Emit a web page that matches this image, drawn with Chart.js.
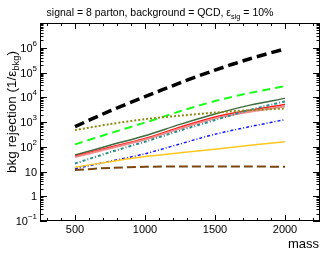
<!DOCTYPE html>
<html><head><meta charset="utf-8">
<script src="https://cdn.jsdelivr.net/npm/chart.js@4.4.0/dist/chart.umd.min.js"></script>
<style>html,body{margin:0;padding:0;background:#fff}#wrap{width:330px;height:255px}</style>
</head><body><div id="wrap"><canvas id="c" width="330" height="255"></canvas></div>
<script>
const masses = [500, 750, 1000, 1250, 1500, 1750, 2000];
const blackDashed = [650, 2800, 10500, 38000, 125000, 360000, 900000];
const greenDashed = [125, 350, 950, 2700, 7000, 15000, 28000];
const oliveDotted = [470, 820, 1300, 1800, 2400, 3000, 3500];
const darkGreen = [46, 115, 280, 800, 2100, 4800, 9000];
const redLine = [41, 95, 215, 620, 1600, 3000, 5100];
const pinkLine = [38, 86, 195, 540, 1400, 2600, 4300];
const tealDotted = [21, 60, 160, 450, 1200, 3100, 6800];
const blueDotted = [13, 26, 52, 130, 320, 650, 1250];
const orangeLine = [15, 25, 40, 57, 80, 115, 160];
const brownDashed = [11.5, 14, 15.5, 16, 16, 16, 15.5];
const yTickExps = [-1, 0, 1, 2, 3, 4, 5, 6];
const xTicks = [500, 1000, 1500, 2000];
const titleText = ["signal = 8 parton, background = QCD, ε", "sig", " = 10%"];
const yTitle = ["bkg rejection (1/ε", "bkg", ")"];
const xTitle = "mass";

function ds(data, color, width, dash) {
  return { data: masses.map((m, i) => ({x: m, y: data[i]})), borderColor: color,
    borderWidth: width, borderDash: dash, pointRadius: 0, tension: 0.3, fill: false };
}
const FONT = '"Liberation Sans", Arial, sans-serif';

function richText(ctx, parts, x, y, size, align) {
  ctx.font = size + 'px ' + FONT;
  const w0 = ctx.measureText(parts[0]).width;
  ctx.font = (size * 0.7) + 'px ' + FONT;
  const w1 = ctx.measureText(parts[1]).width;
  ctx.font = size + 'px ' + FONT;
  const w2 = ctx.measureText(parts[2]).width;
  const tot = w0 + w1 + w2;
  let sx = align === 'center' ? x - tot / 2 : x;
  ctx.textAlign = 'left'; ctx.textBaseline = 'alphabetic';
  ctx.fillText(parts[0], sx, y);
  ctx.font = (size * 0.7) + 'px ' + FONT;
  ctx.fillText(parts[1], sx + w0, y + size * 0.25);
  ctx.font = size + 'px ' + FONT;
  ctx.fillText(parts[2], sx + w0 + w1, y);
}

const deco = {
  id: 'deco',
  afterDraw(chart) {
    const ctx = chart.ctx, a = chart.chartArea, xs = chart.scales.x, ys = chart.scales.y;
    ctx.save();
    ctx.strokeStyle = '#000'; ctx.fillStyle = '#000'; ctx.lineWidth = 1;
    ctx.strokeRect(a.left + 0.5, a.top + 0.5, a.right - a.left - 1, a.bottom - a.top - 1);
    ctx.beginPath();
    for (let v = 300; v <= 2200; v += 100) {
      const px = Math.round(xs.getPixelForValue(v)) + 0.5;
      const L = (v % 500 === 0) ? 6 : 3;
      ctx.moveTo(px, a.bottom); ctx.lineTo(px, a.bottom - L);
      ctx.moveTo(px, a.top); ctx.lineTo(px, a.top + L);
    }
    for (let e = -1; e < 7; e++) {
      for (let k = 1; k <= 9; k++) {
        const v = k * Math.pow(10, e);
        const py = Math.round(ys.getPixelForValue(v)) + 0.5;
        const L = k === 1 ? 7 : 3.5;
        ctx.moveTo(a.left, py); ctx.lineTo(a.left + L, py);
        ctx.moveTo(a.right, py); ctx.lineTo(a.right - L, py);
      }
    }
    ctx.stroke();
    yTickExps.forEach(e => {
      const py = ys.getPixelForValue(Math.pow(10, e));
      ctx.textBaseline = 'middle';
      if (e === 0 || e === 1) {
        ctx.font = '11px ' + FONT; ctx.textAlign = 'right';
        ctx.fillText(e === 0 ? '1' : '10', a.left - 3, py + 1);
      } else {
        const ex = String(e).replace('-', '\u2212');
        ctx.font = '8px ' + FONT; ctx.textAlign = 'right';
        const we = ctx.measureText(ex).width;
        ctx.fillText(ex, a.left - 3, py - 4);
        ctx.font = '11px ' + FONT;
        ctx.fillText('10', a.left - 3 - we, py + 1);
      }
    });
    ctx.font = '11px ' + FONT; ctx.textAlign = 'center'; ctx.textBaseline = 'top';
    xTicks.forEach(v => ctx.fillText(String(v), xs.getPixelForValue(v), a.bottom + 3));
    richText(ctx, titleText, 160, 16, 10.5, 'center');
    ctx.font = '13px ' + FONT; ctx.textAlign = 'right'; ctx.textBaseline = 'alphabetic';
    ctx.fillText(xTitle, 319, 248);
    ctx.save();
    ctx.translate(16, 112); ctx.rotate(-Math.PI / 2);
    richText(ctx, yTitle, 0, 0, 13.5, 'center');
    ctx.restore();
    ctx.restore();
  }
};

new Chart(document.getElementById('c'), {
  type: 'line',
  data: { datasets: [
    ds(oliveDotted, '#8c8c14', 2, [2, 2]),
    ds(brownDashed, '#7a4612', 2, [9, 4]),
    ds(orangeLine, '#ffc81e', 1.5, []),
    ds(blueDotted, '#1a1aff', 1.5, [3, 2, 1, 2]),
    ds(tealDotted, '#2e8c8c', 2, [3, 2, 1, 2]),
    ds(pinkLine, '#f08c8c', 2, []),
    ds(redLine, '#ff1a1a', 1.5, []),
    ds(darkGreen, '#3d6b3d', 1.5, []),
    ds(greenDashed, '#1aff1a', 2, [8, 5]),
    ds(blackDashed, '#000000', 3.5, [10, 5])
  ]},
  options: {
    responsive: false, animation: false, devicePixelRatio: 1,
    layout: { padding: { top: 23, right: 10, left: 0, bottom: 0 } },
    plugins: { legend: { display: false }, tooltip: { enabled: false }, title: { display: false } },
    scales: {
      x: { type: 'linear', min: 250, max: 2250,
        grid: { display: false, drawTicks: false }, border: { display: false },
        ticks: { display: false },
        afterFit(s) { s.height = 34; } },
      y: { type: 'logarithmic', min: 0.1, max: 1e7,
        grid: { display: false, drawTicks: false }, border: { display: false },
        ticks: { display: false },
        afterFit(s) { s.width = 40; } }
    }
  },
  plugins: [deco]
});
</script></body></html>
